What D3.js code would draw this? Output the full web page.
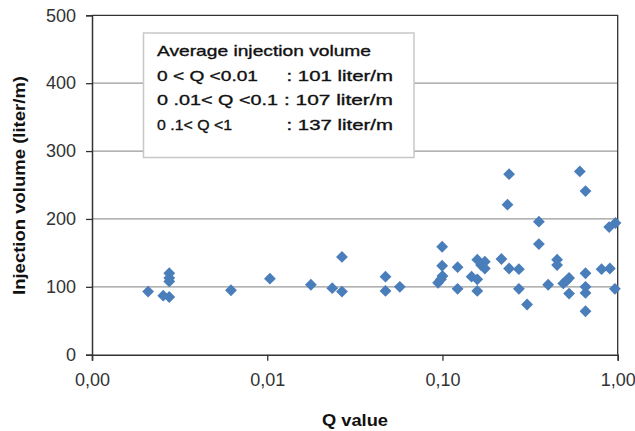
<!DOCTYPE html>
<html><head><meta charset="utf-8">
<script src="https://cdn.jsdelivr.net/npm/d3@7"></script>
<style>
html,body{margin:0;padding:0;background:#fff;}
svg text{font-family:"Liberation Sans",Arial,sans-serif;}
</style></head>
<body><svg id="c" width="635" height="431"></svg>
<script>
// Q value and injection volume (liter/m)
const qValues = [0.00209,0.00255,0.00276,0.00276,0.00276,0.00276,0.00621,0.01036,0.01775,0.0235,0.0267,0.0267,
  0.0473,0.0473,0.0571,0.0996,0.0996,0.1,0.0944,0.098,0.122,0.122,0.1466,0.158,0.158,0.158,0.1745,0.1745,0.166,
  0.217,0.240,0.235,0.240,0.273,0.273,0.304,0.355,0.355,0.401,0.451,0.451,0.489,0.528,0.51,0.528,0.608,0.655,
  0.655,0.655,0.655,0.655,0.809,0.902,0.894,0.971,0.964];
const volumes = [93,87,85,120,113,108,95,112,103,98,144,93,
  115,94,100,159,131,116,106,111,129,97,115,140,111,94,137,127,132,
  141,266,221,127,126,97,74,196,163,103,140,132,105,113,109,90,270,241,
  120,100,91,64,126,127,188,194,97];
const xTickValues = [0.001,0.01,0.1,1];
const xTickLabels = ["0,00","0,01","0,10","1,00"];
const yTickValues = [0,100,200,300,400,500];
const legendTitle = "Average injection volume";
const legendRanges = ["0 < Q <0.01","0 .01< Q <0.1","0 .1< Q <1"];
const legendValues = [": 101 liter/m",": 107 liter/m",": 137 liter/m"];

const svg = d3.select("#c");
const L = 92, R = 617.7, T = 15.3, B = 354.7;
const x = d3.scaleLog().domain([0.001,1]).range([L,R]);
const y = d3.scaleLinear().domain([0,500]).range([B,T]);

// gridlines
svg.append("g").selectAll("line").data(yTickValues.filter(v=>v>0&&v<500)).join("line")
  .attr("x1",L).attr("x2",R).attr("y1",d=>y(d)).attr("y2",d=>y(d))
  .attr("stroke","#9a9a9a").attr("stroke-width",1.3);

// plot border top/right
svg.append("path").attr("d",`M${L},${T}H${R}V${B}`).attr("fill","none").attr("stroke","#333").attr("stroke-width",1.3);

// axes
const xAxis = d3.axisBottom(x).tickValues(xTickValues).tickFormat((d,i)=>xTickLabels[i]).tickSize(6).tickPadding(13);
const gx = svg.append("g").attr("transform",`translate(0,${B})`).call(xAxis);
const yAxis = d3.axisLeft(y).tickValues(yTickValues).tickSize(6).tickPadding(10);
const gy = svg.append("g").attr("transform",`translate(${L},0)`).call(yAxis);
[gx,gy].forEach(g=>{
  g.select(".domain").attr("stroke","#333").attr("stroke-width",1.5);
  g.selectAll(".tick line").attr("stroke","#333").attr("stroke-width",1.3);
  g.selectAll(".tick text").attr("fill","#333").style("font-size","18px");
});

// legend box
const lg = svg.append("g");
lg.append("rect").attr("x",143.5).attr("y",33).attr("width",270.5).attr("height",124.5)
  .attr("fill","#fff").attr("stroke","#c8c8c8").attr("stroke-width",1.5);
function ltext(tx, xx, yy, len){
  lg.append("text").attr("x",xx).attr("y",yy).text(tx)
    .attr("textLength",len).attr("lengthAdjust","spacingAndGlyphs")
    .style("font-size","15px").attr("fill","#111").attr("stroke","#111").attr("stroke-width",0.35);
}
ltext(legendTitle,157,56,214);
const rangeLens = [101,121,75];
const valX = [286.5,284,286.5];
const valLens = [106.5,109,106.5];
legendRanges.forEach((t,i)=>{
  ltext(t,157,80.5+i*24.5,rangeLens[i]);
  ltext(legendValues[i],valX[i],80.5+i*24.5,valLens[i]);
});

// points
svg.append("g").selectAll("path").data(qValues.map((q,i)=>[q,volumes[i]])).join("path")
  .attr("d",d3.symbol(d3.symbolSquare,70))
  .attr("transform",d=>`translate(${x(d[0])},${y(d[1])}) rotate(45)`)
  .attr("fill","#4a7ebb");

// titles
svg.append("text").attr("transform","translate(25,185.5) rotate(-90)").attr("text-anchor","middle")
  .attr("textLength",219).attr("lengthAdjust","spacingAndGlyphs")
  .style("font-size","16px").style("font-weight","bold").attr("fill","#111").text("Injection volume (liter/m)");
svg.append("text").attr("x",355).attr("y",426).attr("text-anchor","middle")
  .attr("textLength",66).attr("lengthAdjust","spacingAndGlyphs")
  .style("font-size","16px").style("font-weight","bold").attr("fill","#111").text("Q value");
</script></body></html>
